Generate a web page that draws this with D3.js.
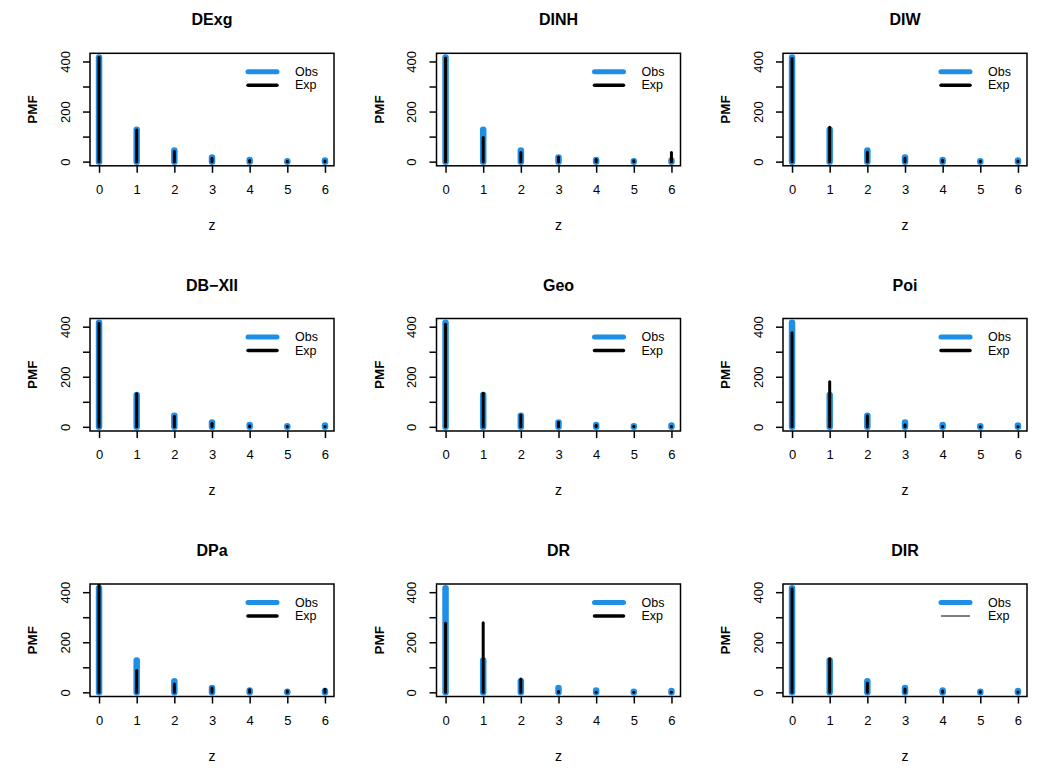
<!DOCTYPE html>
<html>
<head>
<meta charset="utf-8">
<script src="https://cdn.jsdelivr.net/npm/d3@7"></script>
<style>
  html, body { margin: 0; padding: 0; background: #fff; }
  svg { display: block; font-family: "Liberation Sans", Arial, Helvetica, sans-serif; }
</style>
</head>
<body>
<svg id="chart" width="1058" height="776"></svg>
<script>
// ---- data ----
const zValues = [0, 1, 2, 3, 4, 5, 6];
const yTicks = [0, 100, 200, 300, 400];
const yTickLabels = ["0", "", "200", "", "400"];
const panelTitles = ["DExg", "DINH", "DIW", "DB\u2212XII", "Geo", "Poi", "DPa", "DR", "DIR"];
const observed = [416, 127, 44, 17, 7, 2, 5];
const expDExg = [416, 126, 40, 14, 5, 2, 3];
const expDINH = [414, 96, 36, 18, 9, 4, 36];
const expDIW  = [412, 137, 38, 14, 6, 2, 3];
const expDBXII = [414, 132, 42, 14, 4, 1, 1];
const expGeo  = [410, 134, 47, 18, 6, 2, 1];
const expPoi  = [376, 180, 44, 8, 1, 0, 0];
const expDPa  = [450, 87, 33, 17, 10, 5, 12];
const expDR   = [276, 278, 53, 3, 0, 0, 0];
const expDIR  = [414, 134, 37, 13, 5, 2, 1];
const expectedSeries = [expDExg, expDINH, expDIW, expDBXII, expGeo, expPoi, expDPa, expDR, expDIR];
const legendLabels = ["Obs", "Exp"];
const expLegendThin = [false, false, false, false, false, false, false, false, true];

// ---- layout ----
const blue = "#1f8fe6";
const boxW = 244, boxH = 112.5;
const colX = [90, 436.5, 783];
const rowY = [53.3, 318.5, 584];

const svg = d3.select("#chart");
const yMax = d3.max(observed);
const yPad = 0.04 * yMax;
const xPad = 0.04 * (d3.max(zValues) - d3.min(zValues));

panelTitles.forEach((title, i) => {
  const c = i % 3, r = Math.floor(i / 3);
  const g = svg.append("g").attr("transform", `translate(${colX[c]},${rowY[r]})`);
  const x = d3.scaleLinear().domain([d3.min(zValues) - xPad, d3.max(zValues) + xPad]).range([0, boxW]);
  const y = d3.scaleLinear().domain([-yPad, yMax + yPad]).range([boxH, 0]);

  const clipId = "clip" + i;
  g.append("clipPath").attr("id", clipId).append("rect")
    .attr("x", 0).attr("y", 0).attr("width", boxW).attr("height", boxH);

  const plot = g.append("g").attr("clip-path", `url(#${clipId})`);
  // observed
  plot.selectAll("line.obs").data(zValues).enter().append("line")
    .attr("class", "obs")
    .attr("x1", d => x(d)).attr("x2", d => x(d))
    .attr("y1", y(0)).attr("y2", (d, k) => y(observed[k]))
    .attr("stroke", blue).attr("stroke-width", 6.5).attr("stroke-linecap", "round");
  // expected
  const ex = expectedSeries[i];
  plot.selectAll("line.exp").data(zValues).enter().append("line")
    .attr("class", "exp")
    .attr("x1", d => x(d)).attr("x2", d => x(d))
    .attr("y1", y(0)).attr("y2", (d, k) => y(ex[k]))
    .attr("stroke", "#000").attr("stroke-width", 3).attr("stroke-linecap", "round");

  // box
  g.append("rect").attr("x", 0).attr("y", 0).attr("width", boxW).attr("height", boxH)
    .attr("fill", "none").attr("stroke", "#000").attr("stroke-width", 1.5);

  // x axis
  const xAxis = d3.axisBottom(x).tickValues(zValues).tickSize(7).tickPadding(12).tickFormat(d3.format("d"));
  const xg = g.append("g").attr("transform", `translate(0,${boxH})`).call(xAxis);
  xg.select(".domain").remove();
  xg.selectAll(".tick line").attr("stroke-width", 1.5);
  xg.selectAll("text").attr("font-size", 13).attr("fill", "#000")
    .attr("font-family", "Liberation Sans, Arial, sans-serif");

  // y axis
  const yAxis = d3.axisLeft(y).tickValues(yTicks).tickSize(7).tickFormat((d, k) => yTickLabels[k]);
  const yg = g.append("g").call(yAxis);
  yg.select(".domain").remove();
  yg.selectAll(".tick line").attr("stroke-width", 1.5);
  yg.selectAll(".tick text")
    .attr("font-size", 13).attr("fill", "#000")
    .attr("font-family", "Liberation Sans, Arial, sans-serif")
    .attr("text-anchor", "middle").attr("dy", null).attr("x", null)
    .attr("transform", "translate(-25,0) rotate(-90)")
    .attr("dominant-baseline", "central");

  // title
  g.append("text").attr("x", boxW / 2).attr("y", -28)
    .attr("text-anchor", "middle").attr("font-size", 16).attr("font-weight", "bold")
    .text(title);

  // axis labels
  g.append("text").attr("x", boxW / 2).attr("y", boxH + 64)
    .attr("text-anchor", "middle").attr("font-size", 14).text("z");
  g.append("text")
    .attr("transform", `translate(-53,${boxH / 2}) rotate(-90)`)
    .attr("text-anchor", "middle").attr("font-size", 13.5).attr("font-weight", "bold")
    .text("PMF");

  // legend
  const lg = g.append("g").attr("transform", "translate(158,18.5)");
  lg.append("line").attr("x1", 0).attr("x2", 29).attr("y1", 0).attr("y2", 0)
    .attr("stroke", blue).attr("stroke-width", 5).attr("stroke-linecap", "round");
  lg.append("line").attr("x1", 0).attr("x2", 29).attr("y1", 13.5).attr("y2", 13.5)
    .attr("stroke", "#000").attr("stroke-width", expLegendThin[i] ? 1 : 3.5)
    .attr("stroke-linecap", expLegendThin[i] ? "butt" : "round");
  legendLabels.forEach((lab, k) => {
    lg.append("text").attr("x", 47).attr("y", k * 13.5)
      .attr("dominant-baseline", "central").attr("font-size", 12.5).text(lab);
  });
});
</script>
</body>
</html>
